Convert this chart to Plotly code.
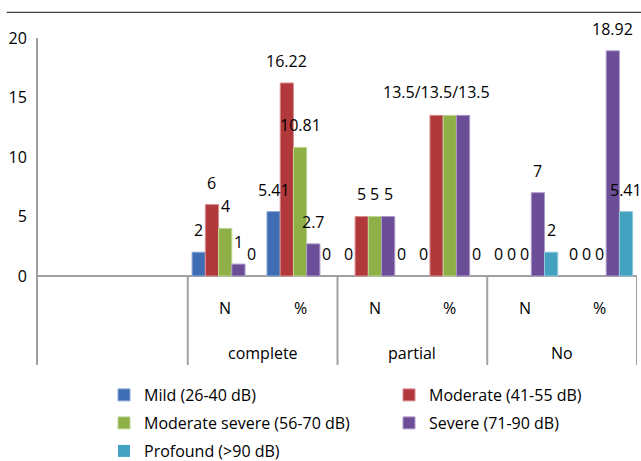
import plotly.graph_objects as go

# Hearing-loss degree by closure outcome (count and percent)
groups = ["complete", "partial", "No"]
subcats = ["N", "%"]
series_names = [
    "Mild (26-40 dB)",
    "Moderate (41-55 dB)",
    "Moderate severe (56-70 dB)",
    "Severe (71-90 dB)",
    "Profound (>90 dB)",
]
# values per column: complete N, complete %, partial N, partial %, No N, No %
mild = [2, 5.41, 0, 0, 0, 0]
moderate = [6, 16.22, 5, 13.5, 0, 0]
moderate_severe = [4, 10.81, 5, 13.5, 0, 0]
severe = [1, 2.7, 5, 13.5, 7, 18.92]
profound = [0, 0, 0, 0, 2, 5.41]
series_values = [mild, moderate, moderate_severe, severe, profound]

colors = ["#3F6DB3", "#B1393C", "#8FB046", "#6C4D97", "#44A1BF"]
edges = ["#8FA8D6", "#D98E90", "#C2D79A", "#AE9CC9", "#93CADB"]

# columns whose non-zero labels are shown joined in one text
merged_cols = [3]

FONT = "Open Sans"
blank_slots = 2                      # empty leading category slots
n_slots = blank_slots + len(groups) * len(subcats)
gap = 0.116
bw = (1 - gap) / len(series_names)
y_low, y_high = -7.48, 20

# legend placement: two columns, three rows (pixel positions)
legend_cols_px = [104, 389, 104, 389, 104]
legend_rows_px = [395, 395, 423, 423, 451]
legend_ids = ["legend", "legend2", "legend3", "legend4", "legend5"]

fig = go.Figure()
for i, (name, vals) in enumerate(zip(series_names, series_values)):
    xs = [blank_slots + j + 0.5 for j in range(len(vals))]
    fig.add_trace(go.Bar(
        name=name, x=xs, y=vals, width=bw, offset=-(1 - gap) / 2 + i * bw,
        marker=dict(color=colors[i],
                    line=dict(color=edges[i],
                              width=[1 if v else 0 for v in vals])),
        legend=legend_ids[i], hoverinfo="skip",
    ))

annotations = []
for j in range(len(mild)):
    center = blank_slots + j + 0.5
    col = [s[j] for s in series_values]
    if j in merged_cols:
        nz = [k for k, v in enumerate(col) if v != 0]
        for k, v in enumerate(col):
            xk = center - (1 - gap) / 2 + (k + 0.5) * bw
            if v == 0:
                annotations.append(dict(x=xk, y=v, text=f"{v:g}", yshift=22))
        k0 = nz[0]
        xk = center - (1 - gap) / 2 + (k0 + 0.5) * bw
        annotations.append(dict(x=xk, y=max(col[k] for k in nz),
                                text="/".join(f"{col[k]:g}" for k in nz), yshift=23))
    else:
        for k, v in enumerate(col):
            xk = center - (1 - gap) / 2 + (k + 0.5) * bw
            annotations.append(dict(x=xk, y=v, text=f"{v:g}", yshift=22))

for a in annotations:
    a.update(xref="x", yref="y", showarrow=False, yanchor="middle",
             font=dict(family=FONT, size=16, color="#000000"))

# category axis labels
for gi, g in enumerate(groups):
    for si, s in enumerate(subcats):
        annotations.append(dict(
            x=blank_slots + gi * 2 + si + 0.5, y=-2.71, xref="x", yref="y",
            text=s, showarrow=False, yanchor="middle",
            font=dict(family=FONT, size=16, color="#000000")))
    annotations.append(dict(
        x=blank_slots + gi * 2 + 1, y=-6.5, xref="x", yref="y",
        text=g, showarrow=False, yanchor="middle",
        font=dict(family=FONT, size=16, color="#000000")))

shapes = []
for b in range(blank_slots, n_slots + 1, 2):
    shapes.append(dict(type="line", xref="x", yref="y", x0=b, x1=b,
                       y0=y_low, y1=0, line=dict(color="#A0A0A0", width=2)))
# frame line across the top
shapes.append(dict(type="line", xref="paper", yref="paper",
                   x0=-0.0523, x1=1.01, y0=1.0786, y1=1.0786,
                   line=dict(color="#404040", width=1.3)))

legend_common = dict(orientation="h", xanchor="left", yanchor="middle",
                     font=dict(family=FONT, size=16, color="#000000"),
                     bgcolor="rgba(0,0,0,0)", borderwidth=0,
                     itemclick=False, itemdoubleclick=False)
legends = {}
for lid, lxp, lyp in zip(legend_ids, legend_cols_px, legend_rows_px):
    legends[lid] = dict(x=(lxp - 38) / 599, y=(365 - lyp) / 327, **legend_common)

fig.update_layout(
    width=641, height=461,
    margin=dict(l=38, r=4, t=38, b=96, autoexpand=False),
    paper_bgcolor="white", plot_bgcolor="white",
    barmode="overlay",
    font=dict(family=FONT, size=16, color="#000000"),
    showlegend=True,
    xaxis=dict(range=[0, n_slots], showticklabels=False, showgrid=False,
               zeroline=False, showline=False, ticks=""),
    yaxis=dict(range=[y_low, y_high], tickvals=[0, 5, 10, 15, 20],
               showgrid=False, zeroline=True, zerolinecolor="#A0A0A0",
               zerolinewidth=2, showline=True, linecolor="#A0A0A0", linewidth=2,
               ticks="", ticklabelstandoff=6,
               tickfont=dict(family=FONT, size=16, color="#000000")),
    annotations=annotations,
    shapes=shapes,
    **legends,
)

fig.write_html("out.html")
